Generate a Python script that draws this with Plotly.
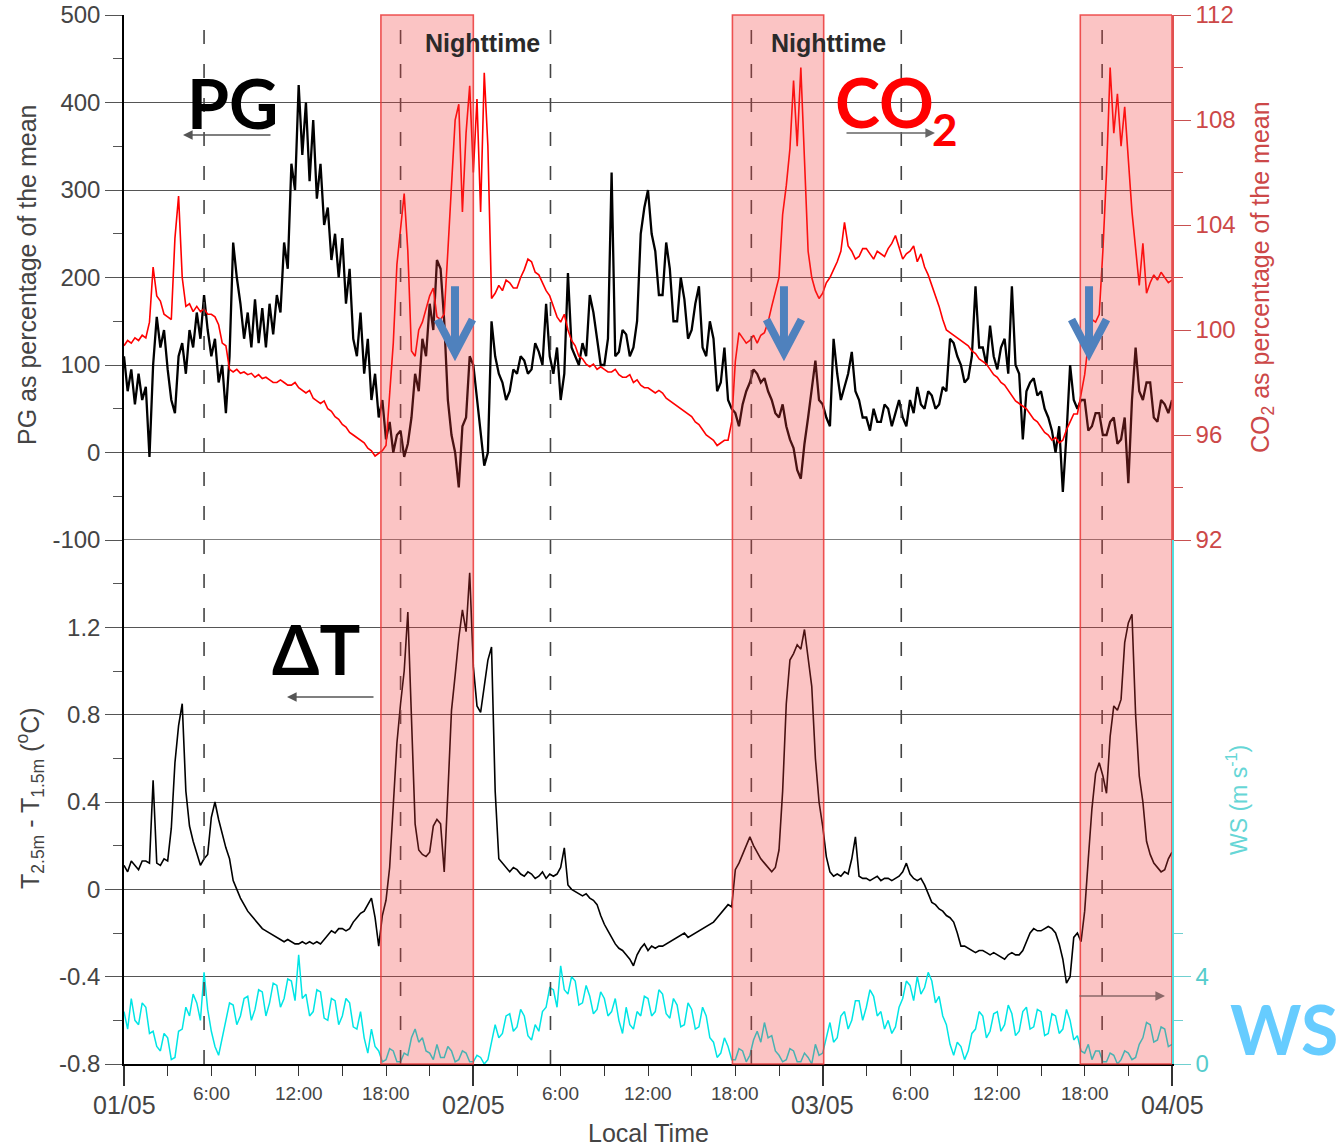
import plotly.graph_objects as go

# ---------------- data (15-min steps, 01/05 00:00 -> 04/05 00:00) ----------------
hours = [i * 0.25 for i in range(289)]

pg = [
    110, 70, 95, 55, 90, 60, 75, -5, 100, 155, 120, 140,
    95, 60, 45, 110, 125, 90, 140, 120, 160, 130, 180, 140,
    110, 130, 80, 100, 45, 110, 240, 200, 170, 130, 160, 120,
    175, 125, 165, 120, 170, 135, 180, 160, 240, 210, 330, 300,
    420, 340, 400, 310, 380, 290, 330, 260, 280, 220, 250, 200,
    245, 170, 210, 130, 110, 160, 90, 130, 60, 90, 40, 60,
    15, 35, 0, 20, 25, -5, 10, 40, 90, 70, 130, 110,
    170, 140, 220, 210, 150, 60, 20, 0, -40, 30, 40, 110,
    100, 60, 20, -15, 0, 150, 110, 90, 80, 60, 70, 95,
    90, 110, 105, 90, 95, 125, 115, 100, 170, 110, 90, 120,
    60, 90, 205, 120, 110, 100, 125, 110, 180, 160, 130, 100,
    100, 130, 320, 110, 115, 140, 135, 110, 120, 150, 250, 280,
    300, 250, 230, 180, 180, 240, 210, 150, 150, 200, 175, 130,
    140, 170, 190, 120, 110, 150, 130, 70, 80, 120, 60, 50,
    45, 30, 55, 70, 80, 95, 90, 80, 85, 70, 60, 45,
    40, 55, 30, 15, 5, -20, -30, 10, 40, 70, 105, 60,
    55, 40, 30, 130, 90, 60, 75, 90, 115, 70, 60, 40,
    40, 25, 50, 35, 35, 55, 50, 30, 45, 60, 40, 30,
    60, 45, 75, 55, 50, 70, 65, 50, 55, 75, 70, 130,
    125, 110, 100, 80, 85, 110, 190, 120, 120, 100, 145, 110,
    95, 120, 130, 90, 190, 100, 90, 15, 70, 80, 85, 65,
    70, 50, 40, 25, 0, 30, -45, 20, 100, 60, 50, 60,
    60, 25, 30, 45, 45, 20, 20, 35, 40, 10, 15, 40,
    -35, 60, 120, 70, 60, 80, 80, 40, 35, 60, 55, 45,
    60,
]

co2 = [
    99.4, 99.6, 99.5, 99.7, 99.6, 99.8, 99.7, 100.3, 102.4, 101.3, 101.1, 100.6,
    100.5, 100.4, 103.5, 105.1, 102.0, 100.9, 101.0, 100.7, 100.9, 100.7, 100.8, 100.6,
    100.6, 100.5, 100.2, 99.5, 99.4, 98.5, 98.4, 98.5, 98.35, 98.4, 98.3, 98.35,
    98.2, 98.3, 98.15, 98.2, 98.1, 98.0, 98.0, 98.1, 98.0, 97.9, 97.9, 98.0,
    97.8, 97.7, 97.6, 97.7, 97.4, 97.3, 97.2, 97.3, 97.0, 96.9, 96.7, 96.6,
    96.4, 96.3, 96.1, 96.0, 95.9, 95.8, 95.7, 95.5, 95.4, 95.2, 95.3, 95.4,
    95.6, 97.5, 99.5, 102.5, 104.0, 105.2, 103.0, 99.2, 99.0, 100.0, 100.3, 100.8,
    101.3, 101.6, 100.5, 100.4, 100.6, 103.0, 105.5, 108.0, 108.6, 104.5, 107.5, 109.3,
    106.0, 108.8, 104.5, 109.8, 107.0, 101.2, 101.4, 101.7, 101.5, 101.9, 101.8, 101.6,
    101.6, 102.0, 102.3, 102.7, 102.6, 102.2, 102.1, 101.8, 101.5, 101.3, 100.9, 100.5,
    100.3, 100.6, 100.0, 99.6, 99.4, 99.0, 98.9, 98.7, 98.6, 98.7, 98.5, 98.6,
    98.5, 98.4, 98.4, 98.5, 98.3, 98.2, 98.2, 98.3, 98.0, 98.1, 97.9, 97.8,
    97.8, 97.7, 97.6, 97.7, 97.6, 97.4, 97.3, 97.2, 97.1, 97.0, 96.9, 96.8,
    96.7, 96.5, 96.4, 96.2, 96.0, 95.9, 95.8, 95.6, 95.7, 95.8, 95.8, 96.5,
    98.8, 99.9, 99.7, 99.5, 99.6, 99.8, 99.5, 99.8, 99.9, 100.3, 100.9, 101.4,
    102.0, 104.4, 105.5, 106.9, 109.5, 107.0, 110.0, 106.5, 103.0, 102.0, 101.5, 101.2,
    101.4, 101.8, 102.0, 102.3, 102.6, 103.0, 104.1, 103.2, 103.0, 102.7, 102.8, 103.1,
    103.1, 102.9, 102.7, 103.0, 102.9, 102.8, 103.1, 103.3, 103.6, 103.1, 102.7, 102.9,
    103.0, 103.2, 102.6, 102.9, 102.4, 102.1, 101.7, 101.3, 100.9, 100.4, 100.0, 99.9,
    99.8, 99.7, 99.6, 99.5, 99.4, 99.2, 99.1, 98.9, 98.8, 98.7, 98.5, 98.3,
    98.2, 98.0, 97.9, 97.7, 97.5, 97.3, 97.2, 97.1, 97.0, 96.8, 96.6, 96.5,
    96.3, 96.1, 96.0, 95.8, 95.9, 95.7, 95.8, 96.2, 96.5, 96.8, 96.8, 97.6,
    98.3, 99.5, 100.4, 100.3, 100.6, 103.0, 106.0, 110.0, 107.5, 109.0, 107.0, 108.5,
    106.5, 104.5, 103.1, 101.7, 103.3, 101.4, 101.8, 102.1, 101.9, 102.2, 102.0, 101.8,
    101.9,
]

dT = [
    0.11, 0.08, 0.13, 0.11, 0.09, 0.13, 0.13, 0.12, 0.50, 0.12, 0.11, 0.14,
    0.13, 0.28, 0.58, 0.75, 0.85, 0.45, 0.29, 0.22, 0.17, 0.11, 0.14, 0.16,
    0.33, 0.40, 0.32, 0.25, 0.19, 0.14, 0.04, 0.00, -0.04, -0.07, -0.10, -0.12,
    -0.14, -0.16, -0.18, -0.19, -0.20, -0.21, -0.22, -0.23, -0.24, -0.23, -0.24, -0.25,
    -0.25, -0.24, -0.25, -0.24, -0.25, -0.24, -0.25, -0.23, -0.21, -0.19, -0.20, -0.18,
    -0.18, -0.19, -0.18, -0.15, -0.13, -0.11, -0.10, -0.07, -0.04, -0.13, -0.26, -0.12,
    -0.05, 0.10, 0.37, 0.67, 0.85, 1.00, 1.27, 0.75, 0.30, 0.18, 0.16, 0.15,
    0.17, 0.29, 0.32, 0.30, 0.08, 0.44, 0.82, 0.98, 1.15, 1.28, 1.18, 1.45,
    1.02, 0.84, 0.81, 0.93, 1.05, 1.11, 0.45, 0.14, 0.12, 0.10, 0.08, 0.10,
    0.09, 0.07, 0.06, 0.08, 0.07, 0.05, 0.06, 0.08, 0.05, 0.07, 0.06, 0.07,
    0.10, 0.19, 0.02, 0.00, -0.01, -0.02, -0.03, -0.02, -0.04, -0.05, -0.07, -0.12,
    -0.16, -0.19, -0.22, -0.25, -0.27, -0.28, -0.30, -0.32, -0.35, -0.30, -0.27, -0.25,
    -0.28, -0.26, -0.27, -0.26, -0.26, -0.25, -0.24, -0.23, -0.22, -0.21, -0.20, -0.22,
    -0.21, -0.20, -0.19, -0.18, -0.17, -0.16, -0.15, -0.13, -0.11, -0.09, -0.07, -0.08,
    0.09, 0.12, 0.16, 0.20, 0.24, 0.20, 0.17, 0.14, 0.12, 0.10, 0.08, 0.10,
    0.18, 0.45, 0.85, 1.05, 1.08, 1.12, 1.10, 1.19, 1.05, 0.93, 0.60, 0.40,
    0.29, 0.15, 0.08, 0.06, 0.07, 0.06, 0.08, 0.07, 0.14, 0.24, 0.06, 0.05,
    0.05, 0.04, 0.05, 0.06, 0.04, 0.05, 0.05, 0.04, 0.05, 0.06, 0.08, 0.12,
    0.07, 0.05, 0.04, 0.05, 0.02, -0.02, -0.06, -0.07, -0.09, -0.10, -0.12, -0.13,
    -0.15, -0.20, -0.26, -0.26, -0.27, -0.28, -0.29, -0.28, -0.28, -0.29, -0.30, -0.29,
    -0.30, -0.31, -0.32, -0.30, -0.29, -0.30, -0.30, -0.28, -0.24, -0.20, -0.18, -0.19,
    -0.19, -0.18, -0.17, -0.18, -0.20, -0.25, -0.32, -0.43, -0.40, -0.22, -0.20, -0.24,
    -0.10, 0.14, 0.37, 0.53, 0.58, 0.52, 0.44, 0.70, 0.84, 0.82, 0.87, 1.13,
    1.22, 1.26, 0.80, 0.52, 0.40, 0.22, 0.16, 0.12, 0.10, 0.08, 0.09, 0.14,
    0.17,
]

ws = [
    2.4, 1.6, 3.0, 2.0, 1.8, 2.8, 2.6, 1.4, 1.5, 0.8, 0.6, 1.4,
    1.2, 0.2, 0.3, 1.5, 1.6, 2.6, 2.2, 3.2, 2.8, 2.0, 4.2, 2.5,
    1.5, 0.8, 0.4, 1.2, 1.9, 2.8, 2.7, 1.8, 2.2, 3.0, 3.1, 2.0,
    2.5, 3.4, 3.3, 2.2, 2.8, 3.7, 3.6, 2.6, 3.0, 3.9, 3.8, 2.9,
    5.0, 3.0, 3.2, 2.2, 2.4, 3.4, 3.3, 2.1, 2.0, 3.0, 2.9, 1.8,
    2.2, 3.0, 2.8, 1.7, 1.6, 2.4, 1.2, 0.5, 1.6, 0.8, 0.6, 0.1,
    0.2, 0.7, 0.6, 0.1, 0.1, 0.5, 0.4, 1.2, 1.6, 1.0, 1.2, 0.6,
    0.5, 0.2, 0.9, 0.3, 0.3, 0.8, 0.6, 0.1, 0.2, 0.6, 0.5, 0.1,
    0.1, 0.4, 0.3, 0.0, 0.2, 1.0, 1.8, 1.2, 1.4, 2.2, 2.3, 1.5,
    1.7, 2.5, 2.2, 1.3, 1.1, 1.8, 1.5, 2.4, 2.6, 3.5, 3.4, 2.6,
    4.5, 3.4, 3.2, 4.0, 3.8, 2.7, 2.8, 3.6, 3.1, 2.3, 2.5, 3.3,
    3.0, 2.2, 2.4, 3.0, 2.0, 1.4, 2.6, 1.8, 1.6, 2.4, 2.2, 3.1,
    3.0, 2.2, 2.4, 3.4, 3.2, 2.3, 2.1, 3.0, 2.7, 1.7, 1.8, 2.8,
    2.5, 1.6, 1.7, 2.6, 2.2, 1.2, 1.0, 0.3, 0.5, 1.2, 0.8, 0.2,
    0.2, 0.7, 0.6, 0.1, 0.4, 1.1, 1.5, 1.0, 1.9, 1.2, 1.3, 0.6,
    0.4, 0.1, 0.2, 0.7, 0.6, 0.1, 0.1, 0.5, 0.3, 0.0, 0.9, 0.4,
    0.5, 1.2, 1.9, 1.0, 1.2, 2.2, 2.4, 1.6, 2.0, 2.9, 2.9, 2.0,
    2.6, 3.4, 3.1, 2.2, 2.4, 1.6, 2.0, 1.4, 1.7, 2.6, 3.0, 3.8,
    3.6, 2.9, 4.0, 3.2, 3.5, 4.2, 3.8, 2.8, 3.1, 2.2, 1.8, 0.9,
    0.4, 1.0, 0.8, 0.2, 0.6, 1.4, 1.6, 2.4, 2.2, 1.2, 1.5, 2.3,
    2.4, 1.5, 1.8, 2.7, 2.3, 1.3, 1.5, 2.4, 2.6, 1.6, 1.7, 2.5,
    2.4, 1.3, 1.4, 2.3, 2.2, 1.4, 1.6, 2.5, 2.0, 1.1, 1.3, 0.6,
    0.5, 0.9, 0.2, 0.6, 0.6, 0.1, 0.1, 0.5, 0.4, 0.0, 0.2, 0.6,
    0.5, 0.2, 0.3, 0.9, 1.2, 1.9, 1.8, 1.0, 1.1, 1.7, 1.6, 0.8,
    0.9,
]

date_ticks = [0, 24, 48, 72]
date_labels = ["01/05", "02/05", "03/05", "04/05"]
hour_ticks = [6, 12, 18, 30, 36, 42, 54, 60, 66]
hour_labels = ["6:00", "12:00", "18:00", "6:00", "12:00", "18:00", "6:00", "12:00", "18:00"]
sun_lines = [5.5, 19.0, 29.3, 43.1, 53.4, 67.2]
nights = [(17.65, 24.0), (41.8, 48.07), (65.7, 72.0)]
drop_arrows = [22.74, 45.34, 66.3]

pg_ticks = [-100, 0, 100, 200, 300, 400, 500]
pg_labels = ["-100", "0", "100", "200", "300", "400", "500"]
dt_ticks = [-0.8, -0.4, 0, 0.4, 0.8, 1.2]
dt_labels = ["-0.8", "-0.4", "0", "0.4", "0.8", "1.2"]
co2_ticks = [92, 96, 100, 104, 108, 112]
ws_ticks = [0, 4]

# ---------------- figure ----------------
FONT = "Liberation Sans, Arial, sans-serif"
BIG = "Lato, Open Sans, sans-serif"
W, H = 1341, 1148
L, R, T, B = 124, 169, 15, 84
PW, PH = W - L - R, H - T - B


def px(xp):
    return (xp - L) / PW


def py(yp):
    return (H - B - yp) / PH


fig = go.Figure()
fig.add_trace(go.Scatter(x=hours, y=pg, mode="lines", line=dict(color="black", width=2.3),
                         xaxis="x", yaxis="y", showlegend=False))
fig.add_trace(go.Scatter(x=hours, y=co2, mode="lines", line=dict(color="#ff0000", width=1.6),
                         xaxis="x", yaxis="y3", showlegend=False))
fig.add_trace(go.Scatter(x=hours, y=ws, mode="lines", line=dict(color="#00e5e5", width=1.5),
                         xaxis="x", yaxis="y4", showlegend=False))
fig.add_trace(go.Scatter(x=hours, y=dT, mode="lines", line=dict(color="black", width=1.6),
                         xaxis="x", yaxis="y2", showlegend=False))

split = 524.0 / PH
tickfont = dict(family=FONT, size=24, color="#444")

fig.update_layout(
    width=W, height=H,
    margin=dict(l=L, r=R, t=T, b=B, autoexpand=False),
    paper_bgcolor="white", plot_bgcolor="white",
    showlegend=False,
    xaxis=dict(domain=[0, 1], range=[0, 72], anchor="y2", showline=True, linecolor="black",
               linewidth=1.5, ticks="outside", tickvals=date_ticks, ticklen=20, tickwidth=1.5,
               tickcolor="#333", showticklabels=False, showgrid=False, zeroline=False,
               automargin=False,
               minor=dict(tickvals=[3 * i for i in range(25)], ticklen=10, tickwidth=1.2,
                          tickcolor="#333", showgrid=False)),
    yaxis=dict(domain=[split, 1], range=[-100, 500], anchor="x", showline=True,
               linecolor="black", linewidth=1.5, ticks="outside", tickvals=pg_ticks,
               ticktext=pg_labels,
               ticklen=17, tickwidth=1.3, tickcolor="#555", showgrid=True, gridcolor="#555",
               gridwidth=1.3, zeroline=False, tickfont=tickfont, automargin=False,
               minor=dict(tickvals=[-50, 50, 150, 250, 350, 450], ticklen=9, tickcolor="#555",
                          tickwidth=1.2, showgrid=False)),
    yaxis2=dict(domain=[0, split], range=[-0.8, 1.6], anchor="x", showline=True,
                linecolor="black", linewidth=1.5, ticks="outside", tickvals=dt_ticks,
                ticktext=dt_labels, ticklen=17, tickwidth=1.3, tickcolor="#555", showgrid=True,
                gridcolor="#555", gridwidth=1.3, zeroline=False, tickfont=tickfont,
                automargin=False,
                minor=dict(tickvals=[-0.6, -0.2, 0.2, 0.6, 1.0, 1.4], ticklen=9,
                           tickcolor="#555", tickwidth=1.2, showgrid=False)),
    yaxis3=dict(overlaying="y", side="right", anchor="x", range=[92, 112], showline=True,
                linecolor="#e05050", linewidth=1.5, ticks="outside", tickvals=co2_ticks,
                ticklen=17, tickwidth=1.3, tickcolor="#c85050", showgrid=False, zeroline=False,
                tickfont=dict(family=FONT, size=24, color="#cc4848"), automargin=False,
                minor=dict(tickvals=[94, 98, 102, 106, 110], ticklen=9, tickcolor="#c85050",
                           tickwidth=1.2, showgrid=False)),
    yaxis4=dict(overlaying="y2", side="right", anchor="x", range=[0, 24], showline=True,
                linecolor="#50dede", linewidth=1.5, ticks="outside", tickvals=ws_ticks,
                ticklen=17, tickwidth=1.3, tickcolor="#70d0d0", showgrid=False, zeroline=False,
                tickfont=dict(family=FONT, size=24, color="#55cccc"), automargin=False,
                minor=dict(tickvals=[2, 6], ticklen=9, tickcolor="#70d0d0", tickwidth=1.2,
                           showgrid=False)),
)

shapes = [dict(type="line", xref="paper", yref="y", x0=0, x1=1, y0=-100, y1=-100,
               line=dict(color="#555", width=1.3), layer="below")]
for h in sun_lines:
    shapes.append(dict(type="line", xref="x", yref="paper", x0=h, x1=h, y0=0, y1=1,
                       line=dict(color="#444", width=1.6, dash="14px,20px"), layer="above"))
for a, b in nights:
    shapes.append(dict(type="rect", xref="x", yref="paper", x0=a, x1=b, y0=0, y1=1,
                       fillcolor="rgba(242,60,60,0.30)",
                       line=dict(color="rgba(235,55,55,0.85)", width=1.6), layer="above"))
for h in drop_arrows:
    path = (f"M {h},190 L {h},122 M {h - 1.2},152 L {h},114 L {h + 1.2},152")
    shapes.append(dict(type="path", xref="x", yref="y", path=path,
                       line=dict(color="#4f81bd", width=8), layer="above"))
fig.update_layout(shapes=shapes)


def note(x, y, text, size, color, family=FONT, xref="paper", angle=0):
    return dict(x=x, y=y, xref=xref, yref="paper", text=text, showarrow=False,
                textangle=angle, xanchor="center", yanchor="middle",
                font=dict(family=family, size=size, color=color))


ann = []
for v, t in zip(date_ticks, date_labels):
    ann.append(note(v, py(1105), t, 25, "#444", xref="x"))
for v, t in zip(hour_ticks, hour_labels):
    ann.append(note(v, py(1093), t, 19, "#444", xref="x"))
ann.append(note(0.5, py(1133), "Local Time", 25, "#444"))
ann.append(note(px(27), py(275), "PG as percentage of the mean", 25, "#444", angle=-90))
ann.append(note(px(30), py(798), "T<sub>2.5m</sub> - T<sub>1.5m</sub> (<sup>o</sup>C)", 25,
                "#444", angle=-90))
ann.append(note(px(1262), py(277), "CO<sub>2</sub> as percentage of the mean", 25, "#cc4848",
                angle=-90))
ann.append(note(px(1237), py(800), "WS (m s<sup>-1</sup>)", 23, "#66d6d6", angle=-90))
for xc in (482, 828):
    ann.append(note(px(xc), py(43), "<b>Nighttime</b>", 25, "#2a2a2a"))
ann.append(note(px(232), py(102), "<b>PG</b>", 68, "black", family=BIG))
ann.append(note(px(884), py(101), "<b>CO</b>", 68, "#ff0000", family=BIG))
ann.append(note(px(945), py(129), "<b>2</b>", 44, "#ff0000", family=BIG))
ann.append(note(px(316), py(648), "<b>ΔT</b>", 68, "black", family=BIG))
ann.append(note(px(1284), py(1028), "<b>WS</b>", 68, "#66ccff", family=BIG))
for head, tail, col in [((183, 135), (272, 135), "#555"), ((935, 133), (845, 133), "#666"),
                        ((287, 697), (375, 697), "#555"), ((1165, 996), (1078, 996), "#8a6868")]:
    ann.append(dict(x=px(head[0]), y=py(head[1]), xref="paper", yref="paper", text="",
                    showarrow=True, ax=tail[0] - head[0], ay=tail[1] - head[1],
                    arrowhead=2, arrowsize=1.2, arrowwidth=1.6, arrowcolor=col))
fig.update_layout(annotations=ann)

fig.write_html("out.html")
